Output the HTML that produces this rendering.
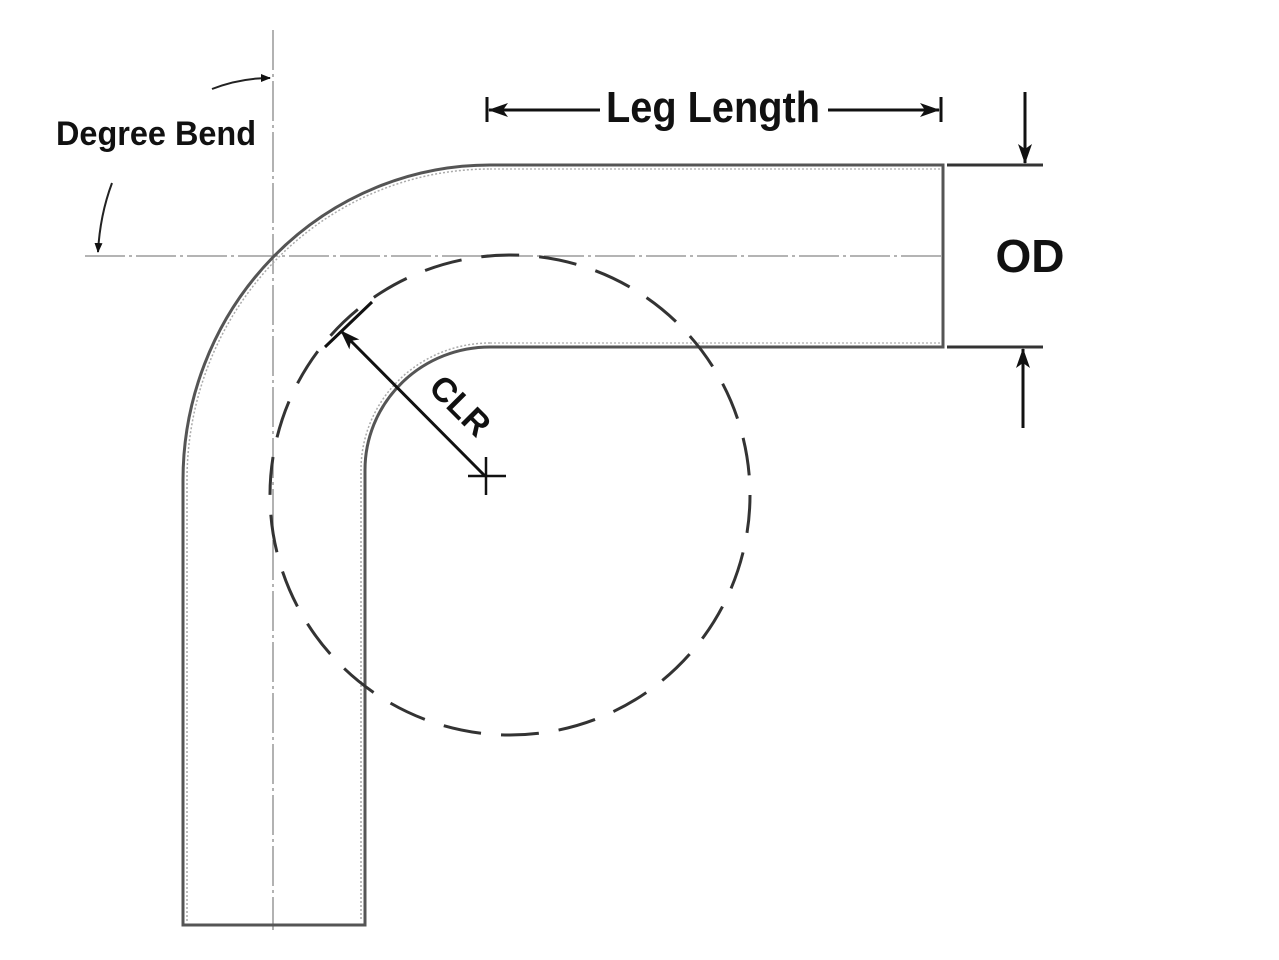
<!DOCTYPE html>
<html><head><style>
html,body{margin:0;padding:0;background:#fff;}
svg{display:block;}
text{font-family:"Liberation Sans",sans-serif;font-weight:bold;fill:#111;}
</style></head><body>
<svg width="1279" height="960" viewBox="0 0 1279 960" xmlns="http://www.w3.org/2000/svg">
<defs>
<marker id="ah" markerWidth="10" markerHeight="10" refX="9" refY="5" orient="auto" markerUnits="userSpaceOnUse">
<path d="M0,1 L10,5 L0,9 Z" fill="#111"/>
</marker>
<marker id="ahb" markerWidth="20" markerHeight="16" refX="19" refY="8" orient="auto" markerUnits="userSpaceOnUse">
<path d="M0,1 L20,8 L0,15 L5,8 Z" fill="#111"/>
</marker>
</defs>
<line x1="273" y1="30" x2="273" y2="930" stroke="#888" stroke-width="1.3" stroke-dasharray="40,4,3,4"/>
<line x1="85" y1="256" x2="943" y2="256" stroke="#888" stroke-width="1.3" stroke-dasharray="40,4,3,4"/>
<path d="M183,925 L183,480 A307,315 0 0 1 490,165 L943,165 L943,347 L490,347 A125,123 0 0 0 365,470 L365,925 Z" fill="none" stroke="#555" stroke-width="3"/>
<path d="M187,921 L187,480 A303,311 0 0 1 490,169" fill="none" stroke="#aaa" stroke-width="1.5" stroke-dasharray="2,2"/>
<path d="M490,343 A129,127 0 0 0 361,470 L361,921" fill="none" stroke="#aaa" stroke-width="1.5" stroke-dasharray="2,2"/>
<line x1="490" y1="169" x2="940" y2="169" stroke="#bbb" stroke-width="1.5" stroke-dasharray="2,2"/>
<line x1="490" y1="343" x2="940" y2="343" stroke="#bbb" stroke-width="1.5" stroke-dasharray="2,2"/>
<circle cx="510" cy="495" r="240" fill="none" stroke="#333" stroke-width="3" stroke-dasharray="38,20"/>
<line x1="485" y1="476" x2="341" y2="331" stroke="#111" stroke-width="3" marker-end="url(#ahb)"/>
<line x1="325" y1="347" x2="372" y2="302" stroke="#111" stroke-width="3"/>
<line x1="468" y1="476" x2="506" y2="476" stroke="#111" stroke-width="2.5"/>
<line x1="486" y1="457" x2="486" y2="495" stroke="#111" stroke-width="2.5"/>
<text x="0" y="0" font-size="34" transform="translate(452,414) rotate(45)" text-anchor="middle" textLength="70" lengthAdjust="spacingAndGlyphs">CLR</text>
<line x1="487" y1="97" x2="487" y2="122" stroke="#111" stroke-width="3"/>
<line x1="941" y1="97" x2="941" y2="122" stroke="#111" stroke-width="3"/>
<line x1="600" y1="110" x2="489" y2="110" stroke="#111" stroke-width="3" marker-end="url(#ahb)"/>
<line x1="828" y1="110" x2="939" y2="110" stroke="#111" stroke-width="3" marker-end="url(#ahb)"/>
<text x="606" y="122" font-size="44" textLength="214" lengthAdjust="spacingAndGlyphs">Leg Length</text>
<text x="56" y="145" font-size="34" textLength="200" lengthAdjust="spacingAndGlyphs">Degree Bend</text>
<path d="M212,89 Q240,78 270,78" fill="none" stroke="#222" stroke-width="2" marker-end="url(#ah)"/>
<path d="M112,183 Q100,215 98,252" fill="none" stroke="#222" stroke-width="2" marker-end="url(#ah)"/>
<line x1="947" y1="165" x2="1043" y2="165" stroke="#333" stroke-width="3"/>
<line x1="947" y1="347" x2="1043" y2="347" stroke="#333" stroke-width="3"/>
<line x1="1025" y1="92" x2="1025" y2="163" stroke="#111" stroke-width="3" marker-end="url(#ahb)"/>
<line x1="1023" y1="428" x2="1023" y2="349" stroke="#111" stroke-width="3" marker-end="url(#ahb)"/>
<text x="1030" y="272" font-size="46" text-anchor="middle">OD</text>
</svg>
</body></html>
